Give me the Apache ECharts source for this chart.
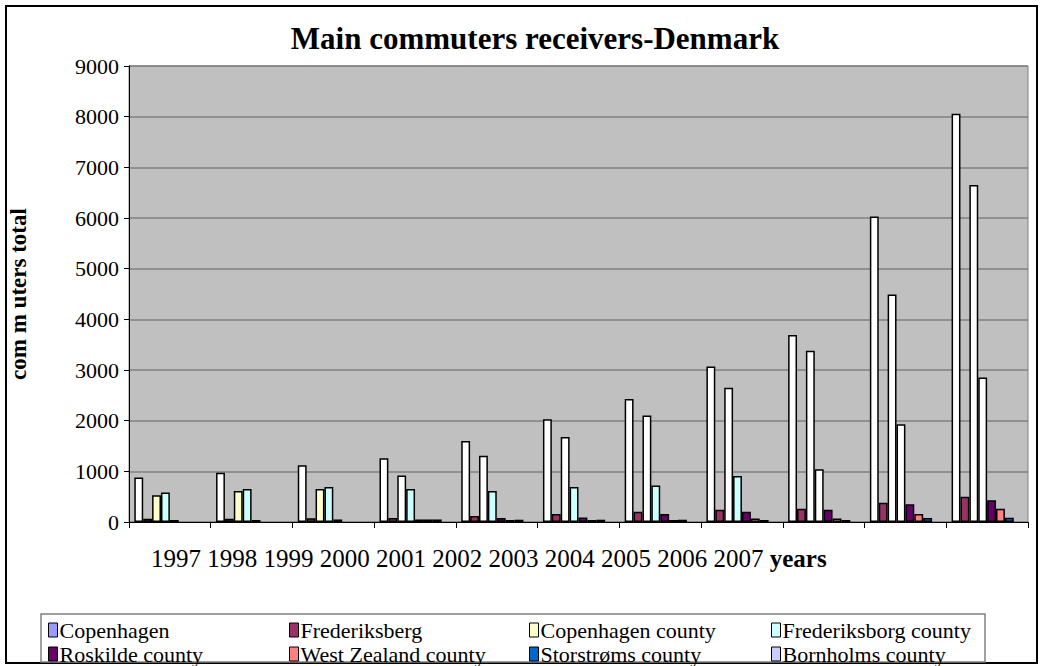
<!DOCTYPE html>
<html>
<head>
<meta charset="utf-8">
<script src="https://cdn.jsdelivr.net/npm/echarts@6/dist/echarts.min.js"></script>
<style>
  html, body { margin: 0; padding: 0; background: #ffffff; }
  #chart { width: 1045px; height: 666px; }
</style>
</head>
<body>
<div id="chart"></div>
<script>
// Commuters received per region, 1997-2007
const years = ['1997', '1998', '1999', '2000', '2001', '2002', '2003', '2004', '2005', '2006', '2007'];

const copenhagen          = [880, 970, 1120, 1260, 1600, 2030, 2430, 3070, 3690, 6030, 8060];
const frederiksberg       = [65, 65, 75, 80, 120, 160, 200, 240, 260, 380, 500];
const copenhagenCounty    = [530, 610, 650, 920, 1310, 1680, 2100, 2650, 3380, 4490, 6650];
const frederiksborgCounty = [580, 650, 690, 650, 610, 690, 720, 910, 1040, 1930, 2850];
const roskildeCounty      = [40, 40, 50, 50, 80, 90, 160, 200, 240, 350, 430];
const westZealandCounty   = [0, 0, 0, 50, 40, 40, 40, 70, 70, 160, 260];
const storstromsCounty    = [0, 0, 0, 50, 45, 45, 45, 40, 40, 80, 85];
const bornholmsCounty     = [0, 0, 0, 0, 0, 0, 0, 0, 0, 0, 0];

const yTicks = { min: 0, max: 9000, interval: 1000 };

const FONT = 'Liberation Serif';

// series definitions: name, values, legend colour, and the year index from which bars are left unfilled
const seriesDefs = [
  { name: 'Copenhagen',           data: copenhagen,          color: '#9999FF', plainFrom: 0 },
  { name: 'Frederiksberg',        data: frederiksberg,       color: '#993366', plainFrom: null },
  { name: 'Copenhagen county',    data: copenhagenCounty,    color: '#FFFFCC', plainFrom: 3 },
  { name: 'Frederiksborg county', data: frederiksborgCounty, color: '#CCFFFF', plainFrom: 8 },
  { name: 'Roskilde county',      data: roskildeCounty,      color: '#660066', plainFrom: null },
  { name: 'West Zealand county',  data: westZealandCounty,   color: '#FF8080', plainFrom: null },
  { name: 'Storstrøms county',    data: storstromsCounty,    color: '#0066CC', plainFrom: null },
  { name: 'Bornholms county',     data: bornholmsCounty,     color: '#CCCCFF', plainFrom: null }
];

const series = seriesDefs.map(function (d) {
  return {
    name: d.name,
    type: 'bar',
    barGap: '0%',
    barCategoryGap: '13%',
    itemStyle: { color: d.color, borderColor: '#000000', borderWidth: 1.5 },
    emphasis: { disabled: true },
    data: d.data.map(function (v, i) {
      // an empty count leaves its slot blank
      if (v === 0) return null;
      if (d.plainFrom !== null && i >= d.plainFrom) {
        return { value: v, itemStyle: { color: '#FFFFFF' } };
      }
      return v;
    })
  };
});

// legend laid out as four columns of two entries
const legendColumns = [
  { left: 48,  names: ['Copenhagen', 'Roskilde county'] },
  { left: 289, names: ['Frederiksberg', 'West Zealand county'] },
  { left: 529, names: ['Copenhagen county', 'Storstrøms county'] },
  { left: 771, names: ['Frederiksborg county', 'Bornholms county'] }
];

const legends = legendColumns.map(function (c) {
  return {
    orient: 'vertical',
    left: c.left,
    top: 619,
    itemWidth: 9,
    itemHeight: 14,
    itemGap: 2,
    icon: 'rect',
    selectedMode: false,
    padding: 0,
    itemStyle: { borderColor: '#000000', borderWidth: 1 },
    textStyle: { fontFamily: FONT, fontSize: 22, color: '#000000', padding: [0, 0, 0, -3] },
    data: c.names
  };
});

const chart = echarts.init(document.getElementById('chart'), null, { renderer: 'svg' });

chart.setOption({
  animation: false,
  backgroundColor: '#FFFFFF',
  title: {
    text: 'Main commuters receivers-Denmark',
    left: 530,
    textAlign: 'center',
    top: 18,
    textStyle: { fontFamily: FONT, fontSize: 31, fontWeight: 'bold', color: '#000000' }
  },
  legend: legends,
  grid: {
    left: 129, right: 17, top: 66, bottom: 144,
    outerBoundsMode: 'none',
    containLabel: false,
    show: true,
    backgroundColor: '#C0C0C0',
    borderColor: '#808080',
    borderWidth: 1
  },
  xAxis: {
    type: 'category',
    data: years,
    boundaryGap: true,
    axisLine: { lineStyle: { color: '#000000', width: 1 } },
    axisTick: { show: true, length: 6, lineStyle: { color: '#000000' } },
    axisLabel: { show: false },
    splitLine: { show: false }
  },
  yAxis: {
    type: 'value',
    min: yTicks.min,
    max: yTicks.max,
    interval: yTicks.interval,
    name: 'com m uters total',
    nameLocation: 'middle',
    nameGap: 99,
    nameTextStyle: { fontFamily: FONT, fontSize: 23, fontWeight: 'bold', color: '#000000' },
    axisLine: { show: true, lineStyle: { color: '#000000', width: 1 } },
    axisTick: { show: true, length: 5, lineStyle: { color: '#000000' } },
    axisLabel: {
      fontFamily: FONT, fontSize: 22, color: '#000000', margin: 10,
      formatter: function (v) { return String(v); }
    },
    splitLine: { show: true, lineStyle: { color: '#808080', width: 1.5 } }
  },
  graphic: [
    {
      type: 'rect',
      z: -10,
      shape: { x: 6, y: 6, width: 1031, height: 657 },
      style: { fill: 'none', stroke: '#000000', lineWidth: 2 }
    },
    {
      type: 'rect',
      z: -5,
      shape: { x: 41, y: 614, width: 944, height: 48 },
      style: { fill: '#FFFFFF', stroke: '#808080', lineWidth: 1.5 }
    },
    {
      type: 'text',
      left: 151,
      top: 546,
      style: {
        text: years.join(' ') + ' {b|years}',
        fontFamily: FONT,
        fontSize: 25,
        fill: '#000000',
        rich: { b: { fontFamily: FONT, fontSize: 25, fontWeight: 'bold', fill: '#000000' } }
      }
    }
  ],
  series: series
});
</script>
</body>
</html>
